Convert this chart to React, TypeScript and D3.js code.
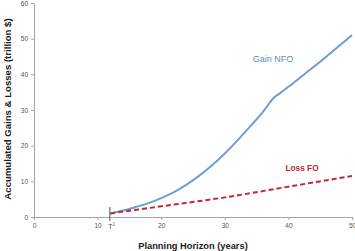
import React, { useEffect, useRef } from 'react';
import * as d3 from 'd3';

// values
const gainYears = [12, 14, 16, 18, 20, 22, 24, 26, 28, 30, 32, 34, 36, 37.8, 38.6, 40, 42, 44, 46, 48, 50];
const gainValues = [1.0, 1.8, 2.8, 3.9, 5.3, 7.0, 9.1, 11.6, 14.5, 17.8, 21.5, 25.4, 29.5, 33.6, 34.6, 36.5, 39.3, 42.1, 45.0, 48.0, 51.0];
const lossYears = [12, 20, 30, 40, 50];
const lossValues = [1.0, 3.0, 5.5, 8.5, 11.5];
const xTicks = [0, 10, 20, 30, 40, 50];
const yTicks = [0, 10, 20, 30, 40, 50, 60];
const markerYear = 12;

const W = 355;
const H = 251;

const App = () => {
  const svgRef = useRef<SVGSVGElement | null>(null);

  useEffect(() => {
    if (!svgRef.current) return;
    const svg = d3.select(svgRef.current);
    svg.selectAll('*').remove();

    const x = d3.scaleLinear().domain([0, 50]).range([34, 352]);
    const y = d3.scaleLinear().domain([0, 60]).range([217, 3]);
    const font = '"Liberation Sans", Arial, sans-serif';

    // axes
    const xAxis = svg.append('g')
      .attr('transform', `translate(0,${y(0)})`)
      .call(d3.axisBottom(x).tickValues(xTicks).tickSize(3).tickSizeOuter(0));
    const yAxis = svg.append('g')
      .attr('transform', `translate(${x(0)},0)`)
      .call(d3.axisLeft(y).tickValues(yTicks).tickSize(3).tickSizeOuter(0));

    [xAxis, yAxis].forEach(a => {
      a.select('.domain').attr('stroke', '#a6a6a6');
      a.selectAll('.tick line').attr('stroke', '#a6a6a6');
      a.selectAll('.tick text')
        .attr('fill', '#555')
        .style('font-family', font)
        .style('font-size', '6.5px');
    });
    xAxis.selectAll('.tick text').attr('dy', '0.9em').attr('y', 5);
    yAxis.selectAll('.tick text').attr('x', -6);

    const gainData = gainYears.map((yr, i) => [yr, gainValues[i]] as [number, number]);
    const lossData = lossYears.map((yr, i) => [yr, lossValues[i]] as [number, number]);

    const line = d3.line<[number, number]>()
      .x(d => x(d[0]))
      .y(d => y(d[1]))
      .curve(d3.curveMonotoneX);

    svg.append('path')
      .datum(gainData)
      .attr('fill', 'none')
      .attr('stroke', '#6d9ed3')
      .attr('stroke-width', 2)
      .attr('d', line);

    svg.append('path')
      .datum(lossData)
      .attr('fill', 'none')
      .attr('stroke', '#c0282f')
      .attr('stroke-width', 2)
      .attr('stroke-dasharray', '5,3')
      .attr('d', line);

    // T1 marker
    svg.append('line')
      .attr('x1', x(markerYear) - 0.5)
      .attr('x2', x(markerYear) - 0.5)
      .attr('y1', y(0) - 10)
      .attr('y2', y(0) + 4)
      .attr('stroke', '#555')
      .attr('stroke-width', 1);
    const t1 = svg.append('text')
      .attr('x', x(markerYear) - 2)
      .attr('y', y(0) + 12)
      .attr('fill', '#555')
      .style('font-family', font)
      .style('font-size', '7px')
      .text('T');
    t1.append('tspan').attr('dy', -3).style('font-size', '4.5px').text('1');

    // series labels
    svg.append('text')
      .attr('x', 273)
      .attr('y', 62)
      .attr('text-anchor', 'middle')
      .attr('fill', '#5a8cc8')
      .style('font-family', font)
      .style('font-size', '9px')
      .text('Gain NFO');

    svg.append('text')
      .attr('x', 302)
      .attr('y', 170.5)
      .attr('text-anchor', 'middle')
      .attr('fill', '#c0282f')
      .style('font-family', font)
      .style('font-size', '8.3px')
      .style('font-weight', 'bold')
      .text('Loss FO');

    // axis titles
    svg.append('text')
      .attr('x', 193)
      .attr('y', 249)
      .attr('text-anchor', 'middle')
      .attr('fill', '#1a1a1a')
      .style('font-family', font)
      .style('font-size', '9.3px')
      .style('font-weight', 'bold')
      .text('Planning Horizon (years)');

    svg.append('text')
      .attr('transform', 'translate(10.5,109) rotate(-90)')
      .attr('text-anchor', 'middle')
      .attr('fill', '#1a1a1a')
      .style('font-family', font)
      .style('font-size', '9.6px')
      .style('font-weight', 'bold')
      .text('Accumulated Gains & Losses (trillion $)');
  }, []);

  return (
    <svg
      ref={svgRef}
      width={W}
      height={H}
      style={{ position: 'absolute', left: 0, top: 0, background: '#fff', display: 'block' }}
    />
  );
};

export default App;
